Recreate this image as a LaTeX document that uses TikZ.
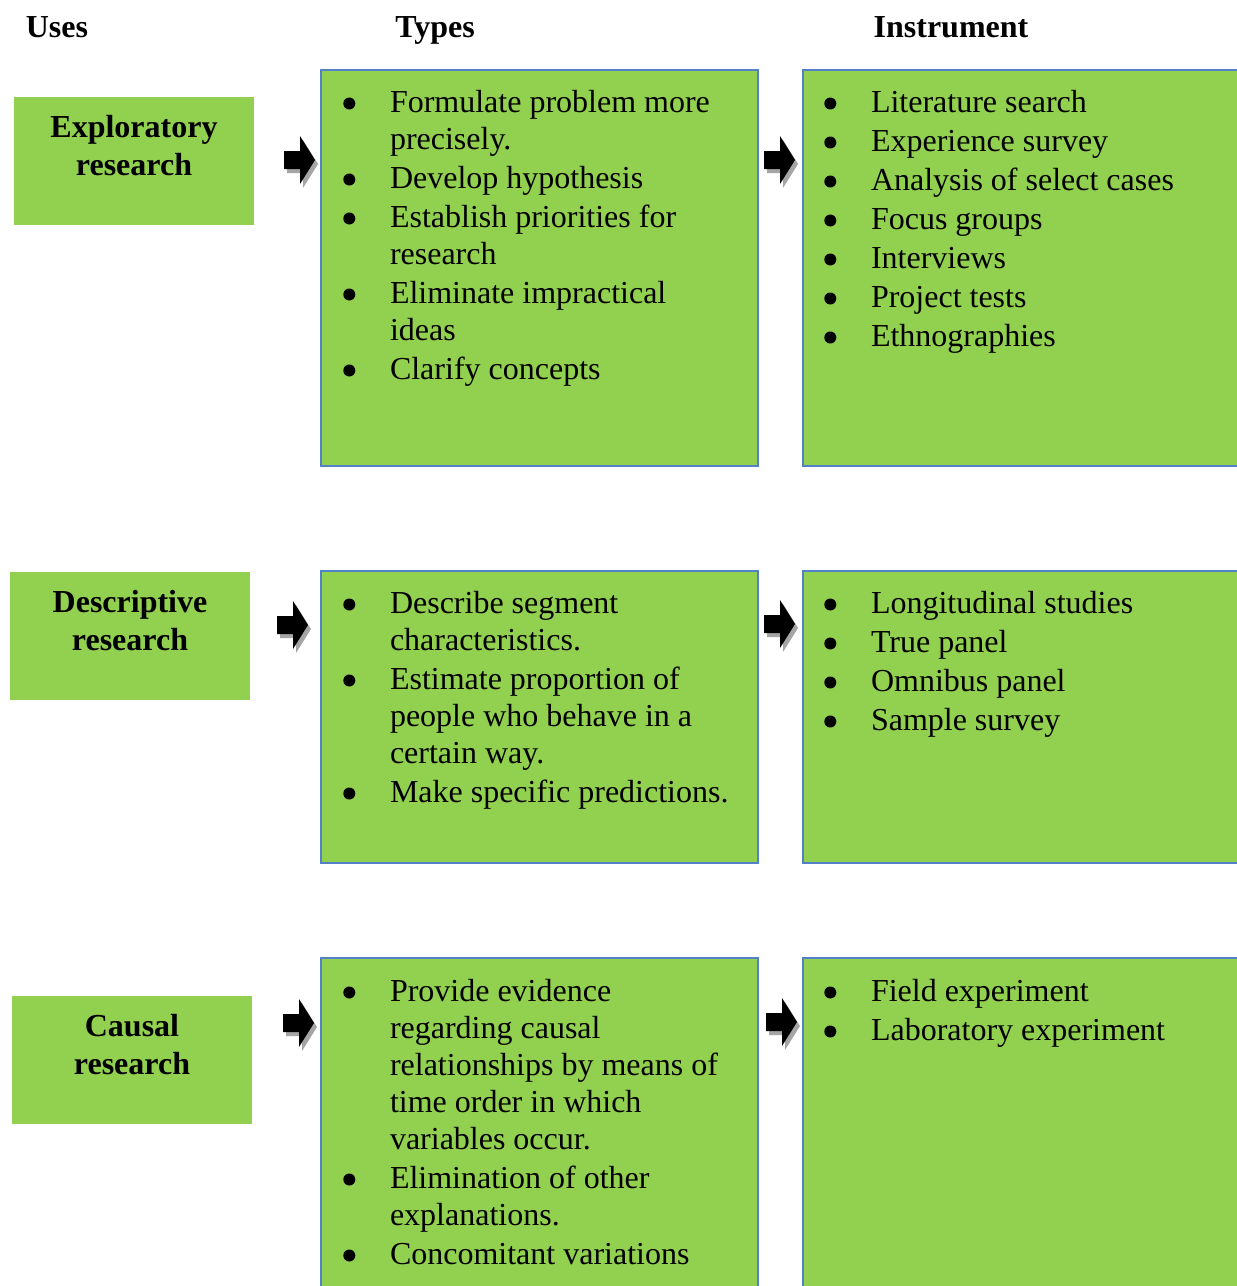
\documentclass[tikz,border=0pt]{standalone}
\usepackage{fontspec}
\usepackage{pict2e}
\setmainfont{Liberation Serif}
\definecolor{boxgreen}{RGB}{146,208,80}
\definecolor{boxedge}{RGB}{84,128,200}
\definecolor{arrowshade}{RGB}{165,165,165}
% list helpers: round bullet column, continuation indent, item lines
\newcommand\bul{\makebox[46.7pt][l]{\setlength{\unitlength}{1pt}%
  \begin{picture}(12,0)\put(6,8.5){\circle*{12}}\end{picture}}}
\newcommand\bi[1]{\hbox{\bul #1}}
\newcommand\ci[1]{\hbox{\hspace*{46.7pt}#1}}
\newcommand\gap{\vskip2pt}
\newcommand\lst[1]{\vtop{\baselineskip=37pt\lineskiplimit=-100pt #1}}
\newcommand\lbl[2]{\vtop{\baselineskip=38.5pt\lineskiplimit=-100pt
  \hbox to 0pt{\hss #1\hss}\hbox to 0pt{\hss #2\hss}}}
\begin{document}
\begin{tikzpicture}[x=1pt,y=-1pt,
  every node/.style={inner sep=0pt, outer sep=0pt, font=\fontsize{32}{37}\selectfont},
  head/.style={font=\bfseries\fontsize{32}{37}\selectfont, anchor=base},
  usebox/.style={fill=boxgreen, anchor=north west, minimum width=240pt, minimum height=128pt},
  listbox/.style={fill=boxgreen, draw=boxedge, line width=1.3pt, anchor=north west},
  listtext/.style={anchor=base west},
  blockarrow/.pic={
    \fill[arrowshade] (3,-5) -- (19,-5) -- (19,-20) -- (34,4) -- (19,28) -- (19,13) -- (3,13) -- cycle;
    \fill[black] (0,-9) -- (16,-9) -- (16,-24) -- (31,0) -- (16,24) -- (16,9) -- (0,9) -- cycle;
  }]
\useasboundingbox (0,0) rectangle (1237,1286);
\fill[white] (0,0) rectangle (1237,1286);

% column headings
\node[head] (hUses) at (57,37) {Uses};
\node[head] (hTypes) at (435,37) {Types};
\node[head] (hInstr) at (951,37) {Instrument};

% uses
\node[usebox] (u1) at (14,97) {};
\node[head] (u1t) at (134,137) {\lbl{Exploratory}{research}};
\node[usebox] (u2) at (10,572) {};
\node[head] (u2t) at (130,612) {\lbl{Descriptive}{research}};
\node[usebox] (u3) at (12,996) {};
\node[head] (u3t) at (132,1036) {\lbl{Causal}{research}};

% types
\node[listbox, minimum width=437pt, minimum height=396pt] (t1) at (321,70) {};
\node[listbox, minimum width=437pt, minimum height=292pt] (t2) at (321,571) {};
\node[listbox, minimum width=437pt, minimum height=340pt] (t3) at (321,958) {};

% instruments
\node[listbox, minimum width=445pt, minimum height=396pt] (i1) at (803,70) {};
\node[listbox, minimum width=445pt, minimum height=292pt] (i2) at (803,571) {};
\node[listbox, minimum width=445pt, minimum height=340pt] (i3) at (803,958) {};

\node[listtext] (t1t) at (343.3,112) {\lst{%
  \bi{Formulate problem more}\ci{precisely.}\gap
  \bi{Develop hypothesis}\gap
  \bi{Establish priorities for}\ci{research}\gap
  \bi{Eliminate impractical}\ci{ideas}\gap
  \bi{Clarify concepts}}};
\node[listtext] (t2t) at (343.3,613) {\lst{%
  \bi{Describe segment}\ci{characteristics.}\gap
  \bi{Estimate proportion of}\ci{people who behave in a}\ci{certain way.}\gap
  \bi{Make specific predictions.}}};
\node[listtext] (t3t) at (343.3,1001) {\lst{%
  \bi{Provide evidence}\ci{regarding causal}\ci{relationships by means of}\ci{time order in which}\ci{variables occur.}\gap
  \bi{Elimination of other}\ci{explanations.}\gap
  \bi{Concomitant variations}}};

\node[listtext] (i1t) at (824.3,112) {\lst{%
  \bi{Literature search}\gap
  \bi{Experience survey}\gap
  \bi{Analysis of select cases}\gap
  \bi{Focus groups}\gap
  \bi{Interviews}\gap
  \bi{Project tests}\gap
  \bi{Ethnographies}}};
\node[listtext] (i2t) at (824.3,613) {\lst{%
  \bi{Longitudinal studies}\gap
  \bi{True panel}\gap
  \bi{Omnibus panel}\gap
  \bi{Sample survey}}};
\node[listtext] (i3t) at (824.3,1001) {\lst{%
  \bi{Field experiment}\gap
  \bi{Laboratory experiment}}};

% block arrows between the columns
\pic (a11) at (284,160) {blockarrow};
\pic (a12) at (764,160) {blockarrow};
\pic (a21) at (277,625) {blockarrow};
\pic (a22) at (764,624) {blockarrow};
\pic (a31) at (283,1023) {blockarrow};
\pic (a32) at (766,1022) {blockarrow};
\end{tikzpicture}
\end{document}
